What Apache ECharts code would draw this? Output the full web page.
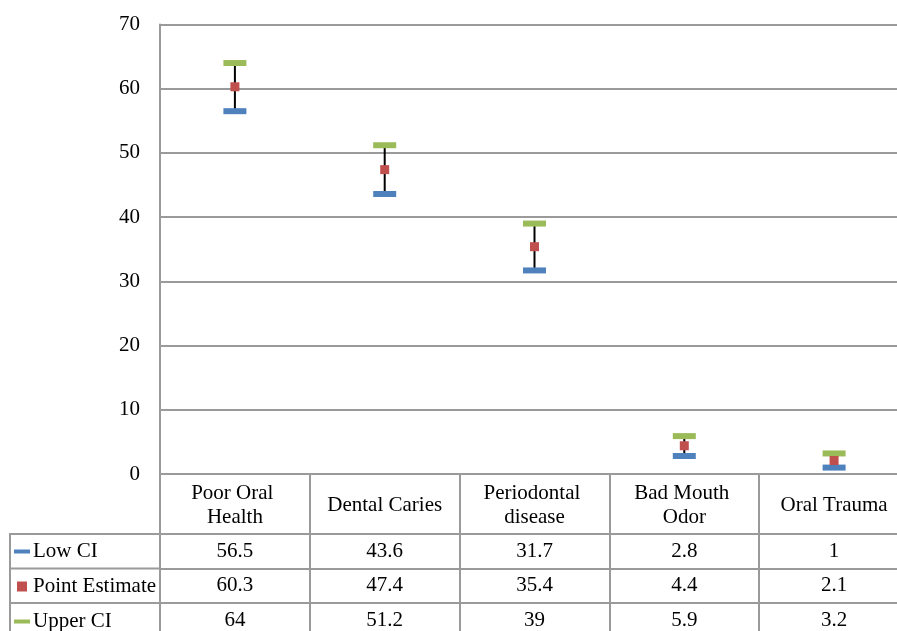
<!DOCTYPE html>
<html>
<head>
<meta charset="utf-8">
<script src="https://cdn.jsdelivr.net/npm/echarts@6/dist/echarts.min.js"></script>
<style>
html,body{margin:0;padding:0;background:#fff;overflow:hidden;width:897px;height:631px;}
#chart{width:910px;height:631px;}
</style>
</head>
<body>
<div id="chart"></div>
<script>
const categories = ['Poor Oral Health', 'Dental Caries', 'Periodontal disease', 'Bad Mouth Odor', 'Oral Trauma'];
const lowCI = [56.5, 43.6, 31.7, 2.8, 1];
const pointEstimate = [60.3, 47.4, 35.4, 4.4, 2.1];
const upperCI = [64, 51.2, 39, 5.9, 3.2];
const seriesNames = ['Low CI', 'Point Estimate', 'Upper CI'];
const rows = [lowCI, pointEstimate, upperCI];

const FONT = 'Liberation Serif';
const FS = 21;
const GRID = '#9a9a9a';
const BLUE = '#4F81BD', RED = '#C0504D', GREEN = '#9BBB59';

const chart = echarts.init(document.getElementById('chart'));

const rowOffsets = [60, 94.5, 129];
const extraX = rows.map((vals, r) => ({
  type: 'category',
  data: categories,
  position: 'bottom',
  offset: rowOffsets[r],
  axisLine: { show: true, lineStyle: { color: GRID, width: 2 } },
  axisTick: { show: false },
  splitLine: { show: false },
  axisLabel: {
    interval: 0,
    margin: 17.25,
    verticalAlign: 'middle',
    fontFamily: FONT, fontSize: FS, color: '#000',
    formatter: (v, i) => String(vals[i])
  }
}));

const option = {
  animation: false,
  backgroundColor: '#fff',
  grid: { left: 160, right: 1, top: 24.5, bottom: 157, containLabel: false },
  legend: {
    orient: 'vertical',
    left: 14, top: 541,
    height: 120,
    padding: 0,
    itemWidth: 16, itemHeight: 10, itemGap: 14,
    selectedMode: false,
    textStyle: { fontFamily: FONT, fontSize: FS, color: '#000', lineHeight: 20, padding: [0,0,0,-2] },
    data: [
      { name: 'Low CI', icon: 'path://M0,0h16v4h-16z' },
      { name: 'Point Estimate', icon: 'path://M0,0h10v10h-10z' },
      { name: 'Upper CI', icon: 'path://M0,0h16v4h-16z' }
    ]
  },
  xAxis: [{
    type: 'category',
    data: categories,
    position: 'bottom',
    axisLine: { show: true, lineStyle: { color: GRID, width: 2 } },
    axisTick: { show: true, inside: false, length: 160, interval: 0, lineStyle: { color: GRID, width: 2 } },
    splitLine: { show: false },
    axisLabel: {
      interval: 0,
      margin: 31,
      verticalAlign: 'middle',
      width: 132, overflow: 'break',
      lineHeight: 24,
      fontFamily: FONT, fontSize: FS, color: '#000'
    }
  }].concat(extraX),
  yAxis: {
    type: 'value',
    min: 0, max: 70, interval: 10,
    axisLine: { show: true, lineStyle: { color: GRID, width: 2 } },
    axisTick: { show: false },
    splitLine: { show: true, lineStyle: { color: GRID, width: 2 } },
    axisLabel: { margin: 20, fontFamily: FONT, fontSize: FS, color: '#000', padding: [3, 0, 0, 0] }
  },
  graphic: [
    { type: 'line', shape: { x1: 10, y1: 534, x2: 160, y2: 534 }, style: { stroke: GRID, lineWidth: 2 } },
    { type: 'line', shape: { x1: 10, y1: 568.5, x2: 160, y2: 568.5 }, style: { stroke: GRID, lineWidth: 2 } },
    { type: 'line', shape: { x1: 10, y1: 603, x2: 160, y2: 603 }, style: { stroke: GRID, lineWidth: 2 } },
    { type: 'line', shape: { x1: 10, y1: 533, x2: 10, y2: 631 }, style: { stroke: GRID, lineWidth: 2 } }
  ],
  series: [
    {
      type: 'custom',
      name: 'range',
      xAxisIndex: 0,
      z: 1,
      renderItem: function (params, api) {
        const i = api.value(0);
        const lo = api.coord([i, api.value(1)]);
        const hi = api.coord([i, api.value(2)]);
        return { type: 'line', shape: { x1: lo[0], y1: lo[1], x2: hi[0], y2: hi[1] }, style: { stroke: '#000', lineWidth: 2 } };
      },
      encode: { x: 0, y: [1, 2] },
      data: categories.map((c, i) => [i, lowCI[i], upperCI[i]])
    },
    { type: 'scatter', name: 'Low CI', xAxisIndex: 0, z: 3, symbol: 'rect', symbolSize: [23, 6], itemStyle: { color: BLUE, opacity: 1 }, data: lowCI },
    { type: 'scatter', name: 'Point Estimate', xAxisIndex: 0, z: 4, symbol: 'rect', symbolSize: [9, 9], itemStyle: { color: RED, opacity: 1 }, data: pointEstimate },
    { type: 'scatter', name: 'Upper CI', xAxisIndex: 0, z: 3, symbol: 'rect', symbolSize: [23, 6], itemStyle: { color: GREEN, opacity: 1 }, data: upperCI }
  ]
};
chart.setOption(option);
</script>
</body>
</html>
